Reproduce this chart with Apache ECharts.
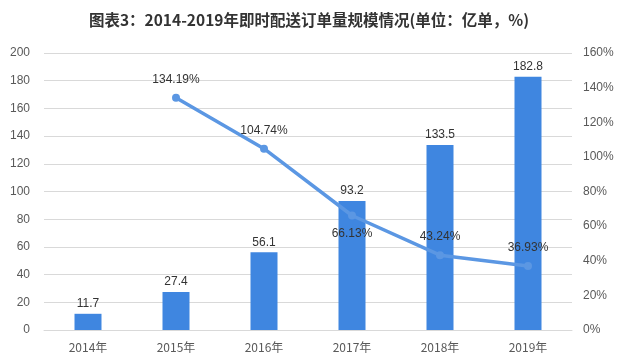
<!DOCTYPE html>
<html>
<head>
<meta charset="utf-8">
<script src="https://cdn.jsdelivr.net/npm/echarts@6/dist/echarts.min.js"></script>
<style>
  html, body { margin: 0; padding: 0; background: #fff; }
  #main { width: 618px; height: 353px; }
</style>
</head>
<body>
<div id="main"></div>
<script>
// 数据
var years = ['2014年', '2015年', '2016年', '2017年', '2018年', '2019年'];
var orders = [11.7, 27.4, 56.1, 93.2, 133.5, 182.8];          // 亿单
var growth = [null, 134.19, 104.74, 66.13, 43.24, 36.93];     // %
var growthLabelPos = ['top', 'top', 'top', 'bottom', 'top', 'top'];

var myChart = echarts.init(document.getElementById('main'));

var fontFam = '"Noto Sans CJK SC", "Microsoft YaHei", sans-serif';

var lineData = [];
for (var i = 0; i < growth.length; i++) {
    lineData.push({
        value: growth[i],
        label: { position: growthLabelPos[i] }
    });
}

var option = {
    animation: false,
    title: {
        text: '图表3：2014-2019年即时配送订单量规模情况(单位：亿单，%)',
        left: 'center',
        top: 7,
        textStyle: {
            fontFamily: fontFam,
            fontSize: 15.5,
            fontWeight: 'bold',
            color: '#333'
        }
    },
    grid: {
        left: 44,
        right: 46,
        top: 53,
        bottom: 21
    },
    xAxis: {
        type: 'category',
        data: years,
        axisTick: { show: false },
        axisLine: { lineStyle: { color: '#d9d9d9' } },
        axisLabel: {
            color: '#595959',
            fontSize: 12,
            fontFamily: fontFam,
            margin: 11
        }
    },
    yAxis: [{
        type: 'value',
        min: 0,
        max: 200,
        interval: 20,
        axisLine: { show: false },
        axisTick: { show: false },
        axisLabel: { color: '#595959', fontSize: 12, margin: 14 },
        splitLine: { lineStyle: { color: '#d9d9d9' } }
    }, {
        type: 'value',
        min: 0,
        max: 160,
        interval: 20,
        axisLine: { show: false },
        axisTick: { show: false },
        axisLabel: { color: '#595959', fontSize: 12, formatter: '{value}%', margin: 11 },
        splitLine: { show: false }
    }],
    series: [
        {
            name: '订单量',
            type: 'bar',
            data: orders,
            barWidth: 27,
            itemStyle: { color: '#3f86e0' },
            label: {
                show: true,
                position: 'top',
                distance: 4,
                color: '#333',
                fontSize: 12
            }
        },
        {
            name: '增速',
            type: 'line',
            yAxisIndex: 1,
            data: lineData,
            symbol: 'circle',
            symbolSize: 8,
            lineStyle: { color: '#5b97e3', width: 3.5 },
            itemStyle: { color: '#5b97e3' },
            label: {
                show: true,
                color: '#333',
                fontSize: 12,
                distance: 8,
                formatter: function (p) { return p.value.toFixed(2) + '%'; }
            }
        }
    ]
};

myChart.setOption(option);
</script>
</body>
</html>
